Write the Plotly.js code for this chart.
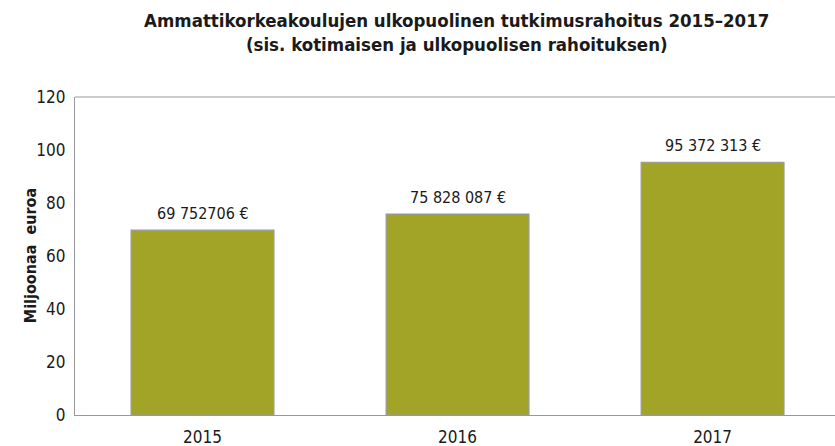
<!DOCTYPE html>
<html><head><meta charset="utf-8">
<script src="https://cdn.plot.ly/plotly-3.0.1.min.js"></script>
<style>html,body{margin:0;padding:0;background:#fff}#chart{width:835px;height:446px}</style>
</head><body><div id="chart"></div>
<script>
var years = ['2015', '2016', '2017'];
var values = [69.752706, 75.828087, 95.372313];
var labels = ['69 752706 €', '75 828 087 €', '95 372 313 €'];
var yTicks = [0, 20, 40, 60, 80, 100, 120];
var yTitle = 'Miljoonaa  euroa';

var FONT = '"DejaVu Sans Condensed", "Liberation Sans Narrow", sans-serif';

var trace = {
  type: 'bar', x: years, y: values,
  width: 0.56,
  marker: {color: '#A2A428', line: {color: '#999999', width: 1.2}},
  hoverinfo: 'none'
};

var annotations = [];
for (var i = 0; i < years.length; i++) {
  annotations.push({x: i, y: values[i], xref: 'x', yref: 'y', text: labels[i], showarrow: false,
    xanchor: 'center', yanchor: 'bottom', yshift: 5, font: {family: FONT, size: 16, color: '#1a1a1a'}});
}
annotations.push({xref: 'paper', yref: 'paper', x: -0.059, y: 0.5, xanchor: 'center', yanchor: 'middle',
  textangle: -90, showarrow: false, text: '<b>' + yTitle + '</b>', font: {family: FONT, size: 16, color: '#1a1a1a'}});

var layout = {
  width: 835, height: 446,
  margin: {l: 75, r: 0, t: 97, b: 31},
  paper_bgcolor: '#fff', plot_bgcolor: '#fff',
  font: {family: FONT, color: '#1a1a1a'},
  title: {text: '<b>Ammattikorkeakoulujen ulkopuolinen tutkimusrahoitus 2015–2017<br>(sis. kotimaisen ja ulkopuolisen rahoituksen)</b>',
    x: 0.547, xanchor: 'center', y: 0.94, yanchor: 'top', font: {family: FONT, size: 18.5, color: '#1a1a1a'}},
  xaxis: {type: 'category', range: [-0.5, 2.48], showline: true, linecolor: '#999', linewidth: 1.2,
    ticks: '', tickfont: {size: 17}, ticklabelstandoff: 6, showgrid: false, zeroline: false, fixedrange: true},
  yaxis: {range: [0, 120], tickvals: yTicks, showline: true, linecolor: '#999', linewidth: 1.2,
    ticks: '', tickfont: {size: 17}, ticklabelstandoff: 5, showgrid: false, zeroline: false},
  shapes: [{type: 'line', xref: 'paper', yref: 'paper', x0: 0, x1: 1, y0: 1, y1: 1, line: {color: '#999', width: 1.2}}],
  annotations: annotations,
  showlegend: false
};

Plotly.newPlot('chart', [trace], layout, {displayModeBar: false, staticPlot: true});
</script></body></html>
